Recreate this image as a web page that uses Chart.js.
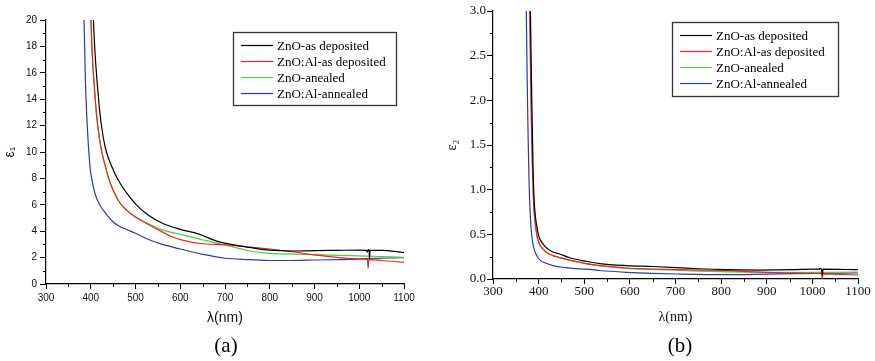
<!DOCTYPE html>
<html>
<head>
<meta charset="utf-8">
<script src="https://cdn.jsdelivr.net/npm/chart.js@4.4.1/dist/chart.umd.min.js"></script>
<style>
  body { margin: 0; background: #fff; }
  #wrap { position: relative; width: 875px; height: 361px; overflow: hidden; background: #fff; }
  canvas { position: absolute; top: 0; }
  #chartA { left: 0; }
  #chartB { left: 440px; }
  .caption { position: absolute; top: 333px; width: 60px; text-align: center;
             font: 21px "Liberation Serif", "Times New Roman", serif; color: #000; }
</style>
</head>
<body>
<div id="wrap">
  <canvas id="chartA" width="440" height="361"></canvas>
  <canvas id="chartB" width="435" height="361"></canvas>
  <div class="caption" style="left:196px">(a)</div>
  <div class="caption" style="left:650px">(b)</div>
</div>
<script>
const seriesNames = ['ZnO-as deposited', 'ZnO:Al-as deposited', 'ZnO-anealed', 'ZnO:Al-annealed'];
const seriesColors = ['#000000', '#f02222', '#4fcb3e', '#2a3aa8'];

// (a) real part eps1
const e1BlackWl = [402, 406, 410, 415, 421, 428, 435, 447, 461, 480, 502, 529, 560, 600, 640, 681, 700, 750, 800, 850, 900, 950, 1000, 1016, 1018, 1020, 1022, 1023, 1024, 1050, 1100];
const e1BlackVal = [25, 20, 17.3, 15.0, 12.8, 11.1, 10.0, 8.9, 7.9, 6.9, 6.0, 5.2, 4.6, 4.14, 3.8, 3.25, 3.1, 2.8, 2.56, 2.5, 2.53, 2.55, 2.57, 2.55, 2.42, 2.6, 2.55, 1.9, 2.55, 2.55, 2.38];
const e1RedWl = [397, 400.5, 404, 408, 413, 420, 426, 432, 440, 450, 463, 480, 499, 532, 551, 580, 607, 650, 681, 720, 756, 800, 850, 900, 950, 1000, 1018, 1020, 1021, 1050, 1100];
const e1RedVal = [26, 20, 17, 15, 12.8, 10.9, 9.8, 9.0, 8.0, 7.1, 6.25, 5.6, 5.1, 4.45, 4.1, 3.6, 3.3, 3.05, 3.0, 2.93, 2.8, 2.65, 2.45, 2.2, 2.02, 1.9, 1.85, 1.2, 1.85, 1.78, 1.64];
const e1GreenWl = [397, 400.5, 404, 408, 413, 420, 426, 432, 440, 450, 463, 480, 499, 532, 560, 607, 650, 681, 720, 756, 800, 830, 900, 979, 1050, 1100];
const e1GreenVal = [26, 20, 17, 15, 12.8, 10.9, 9.8, 9.0, 8.0, 7.1, 6.25, 5.6, 5.1, 4.5, 4.1, 3.7, 3.35, 3.1, 2.8, 2.5, 2.32, 2.28, 2.22, 2.15, 2.08, 2.02];
const e1BlueWl = [382, 385, 388, 391, 398, 402, 410, 420, 430, 438, 450, 462, 475, 500, 532, 560, 600, 650, 700, 756, 800, 850, 900, 979, 1000, 1100];
const e1BlueVal = [26, 20, 15.5, 12.8, 9.0, 8.0, 6.8, 6.0, 5.5, 5.15, 4.7, 4.42, 4.2, 3.84, 3.33, 3.0, 2.65, 2.25, 1.95, 1.85, 1.78, 1.78, 1.82, 1.87, 1.9, 2.0];

// (b) imaginary part eps2
const e2BlackWl = [378, 382, 385, 388, 390, 393, 397, 401, 407, 415, 428, 446, 470, 505, 534, 593, 650, 702, 750, 812, 880, 958, 1000, 1015, 1018, 1020, 1022, 1023, 1100];
const e2BlackVal = [4.5, 3.0, 2.0, 1.2, 0.9, 0.7, 0.56, 0.47, 0.41, 0.36, 0.31, 0.28, 0.235, 0.197, 0.172, 0.15, 0.14, 0.128, 0.115, 0.104, 0.1, 0.104, 0.11, 0.11, 0.12, 0.105, 0.04, 0.11, 0.104];
const e2RedWl = [377, 380.5, 383, 385, 387, 389, 392, 396.5, 402, 409, 417, 430, 446, 483, 519, 593, 650, 702, 750, 812, 900, 958, 1020, 1022, 1023, 1100];
const e2RedVal = [4.5, 3.0, 2.1, 1.55, 1.15, 0.85, 0.65, 0.48, 0.39, 0.34, 0.3, 0.265, 0.24, 0.195, 0.16, 0.123, 0.112, 0.105, 0.1, 0.093, 0.075, 0.067, 0.06, 0.0, 0.058, 0.045];
const e2GreenWl = [377, 380.5, 383, 385, 387, 389, 392, 396.5, 402, 409, 417, 430, 446, 483, 519, 593, 650, 702, 812, 900, 958, 1100];
const e2GreenVal = [4.5, 3.0, 2.1, 1.55, 1.15, 0.85, 0.65, 0.48, 0.39, 0.34, 0.3, 0.265, 0.24, 0.193, 0.158, 0.12, 0.108, 0.098, 0.08, 0.075, 0.074, 0.076];
const e2BlueWl = [370, 373, 375, 377, 379, 380.5, 383, 385.5, 388, 391, 395, 399, 406, 415, 425, 439, 460, 480, 519, 534, 593, 650, 702, 812, 900, 958, 1100];
const e2BlueVal = [4.5, 3.0, 2.2, 1.58, 1.1, 0.85, 0.6, 0.46, 0.38, 0.32, 0.27, 0.235, 0.2, 0.18, 0.16, 0.142, 0.128, 0.116, 0.104, 0.095, 0.075, 0.063, 0.056, 0.048, 0.055, 0.06, 0.067];

function toPoints(wl, val) {
    return wl.map((x, i) => ({ x: x, y: val[i] }));
}

// draws the framed legend inside the plot, like Origin does
const insideLegend = {
    id: 'insideLegend',
    afterDraw(chart, args, opts) {
        const { ctx, chartArea } = chart;
        const x = Math.round(chartArea.right - opts.right - opts.width);
        const y = Math.round(chartArea.top + opts.top);
        ctx.save();
        ctx.fillStyle = '#fff';
        ctx.fillRect(x, y, opts.width, opts.height);
        ctx.strokeStyle = '#333';
        ctx.lineWidth = 1.3;
        ctx.strokeRect(x + 0.5, y + 0.5, opts.width, opts.height);
        ctx.font = opts.font;
        ctx.textBaseline = 'middle';
        chart.data.datasets.forEach((ds, i) => {
            const rowY = Math.round(y + 12.5 + i * 16.3) + 0.5;
            ctx.strokeStyle = ds.borderColor;
            ctx.lineWidth = 1.2;
            ctx.beginPath();
            ctx.moveTo(x + 8, rowY);
            ctx.lineTo(x + 40, rowY);
            ctx.stroke();
            ctx.fillStyle = '#000';
            ctx.fillText(ds.label, x + 44, rowY + 1);
        });
        ctx.restore();
    }
};

// short ticks halfway between the major ones
const minorTicks = {
    id: 'minorTicks',
    afterDraw(chart) {
        const { ctx, chartArea, scales } = chart;
        ctx.save();
        ctx.strokeStyle = '#000';
        ctx.lineWidth = 1;
        const xt = scales.x.ticks;
        for (let i = 0; i < xt.length - 1; i++) {
            const px = Math.round(scales.x.getPixelForValue((xt[i].value + xt[i + 1].value) / 2)) + 0.5;
            ctx.beginPath();
            ctx.moveTo(px, chartArea.bottom);
            ctx.lineTo(px, chartArea.bottom + 3);
            ctx.stroke();
        }
        const yt = scales.y.ticks;
        for (let i = 0; i < yt.length - 1; i++) {
            const py = Math.round(scales.y.getPixelForValue((yt[i].value + yt[i + 1].value) / 2)) + 0.5;
            ctx.beginPath();
            ctx.moveTo(chartArea.left, py);
            ctx.lineTo(chartArea.left - 3, py);
            ctx.stroke();
        }
        ctx.restore();
    }
};

function makeChart(id, cfg) {
    const datasets = cfg.series.map((s, i) => ({
        label: seriesNames[i],
        data: toPoints(s[0], s[1]),
        borderColor: seriesColors[i],
        borderWidth: 1.2,
        pointRadius: 0,
        fill: false,
        cubicInterpolationMode: 'monotone'
    }));
    return new Chart(document.getElementById(id), {
        type: 'line',
        data: { datasets: datasets },
        plugins: [insideLegend, minorTicks],
        options: {
            responsive: false,
            animation: false,
            layout: { padding: cfg.padding },
            plugins: {
                legend: { display: false },
                tooltip: { enabled: false },
                insideLegend: cfg.legend
            },
            scales: {
                x: {
                    type: 'linear',
                    min: 300,
                    max: 1100,
                    afterFit: (scale) => { scale.height = cfg.xHeight; },
                    border: { display: true, color: '#000', width: 1.2 },
                    grid: { drawOnChartArea: false, drawTicks: true, tickLength: 5, tickColor: '#000' },
                    ticks: { stepSize: 100, padding: cfg.xPad, color: '#111', maxRotation: 0, font: cfg.tickFont, callback: (v) => String(v) },
                    title: { display: true, text: 'λ(nm)', color: '#111', padding: { top: 0, bottom: 3 }, font: cfg.titleFont }
                },
                y: {
                    min: 0,
                    max: cfg.yMax,
                    afterFit: (scale) => { scale.width = cfg.yWidth; },
                    border: { display: true, color: '#000', width: 1.2 },
                    grid: { drawOnChartArea: false, drawTicks: true, tickLength: 6, tickColor: '#000' },
                    ticks: { stepSize: cfg.yStep, padding: cfg.yPad, color: '#111', font: cfg.tickFont, callback: cfg.yFormat },
                    title: { display: true, text: cfg.yTitle, color: '#111', padding: { top: cfg.yTitlePad, bottom: 0 }, font: cfg.titleFont }
                }
            }
        }
    });
}

const sansTick = { family: '"Liberation Sans", Arial, sans-serif', size: 10 };
const serifTick = { family: '"Liberation Serif", "Times New Roman", serif', size: 13 };
const legendFont = '13px "Liberation Serif", "Times New Roman", serif';

makeChart('chartA', {
    series: [[e1BlackWl, e1BlackVal], [e1RedWl, e1RedVal], [e1GreenWl, e1GreenVal], [e1BlueWl, e1BlueVal]],
    padding: { left: 0, right: 36, top: 20, bottom: 31 },
    xHeight: 46,
    yWidth: 46,
    yMax: 20,
    yStep: 2,
    yFormat: (v) => String(v),
    xPad: 3,
    yPad: 3,
    yTitle: 'ε₁',
    yTitlePad: 2,
    tickFont: sansTick,
    titleFont: { family: '"Liberation Sans", Arial, sans-serif', size: 14 },
    legend: { right: 8, top: 12, width: 163, height: 73, font: legendFont }
});

makeChart('chartB', {
    series: [[e2BlackWl, e2BlackVal], [e2RedWl, e2RedVal], [e2GreenWl, e2GreenVal], [e2BlueWl, e2BlueVal]],
    padding: { left: 0, right: 17, top: 11, bottom: 32 },
    xHeight: 50,
    yWidth: 53,
    yMax: 3,
    yStep: 0.5,
    yFormat: (v) => v.toFixed(1),
    xPad: 0,
    yPad: 1,
    yTitle: 'ε₂',
    yTitlePad: 4,
    tickFont: serifTick,
    titleFont: { family: '"Liberation Serif", "Times New Roman", serif', size: 14 },
    legend: { right: 20, top: 11, width: 166, height: 74, font: legendFont }
});
</script>
</body>
</html>
